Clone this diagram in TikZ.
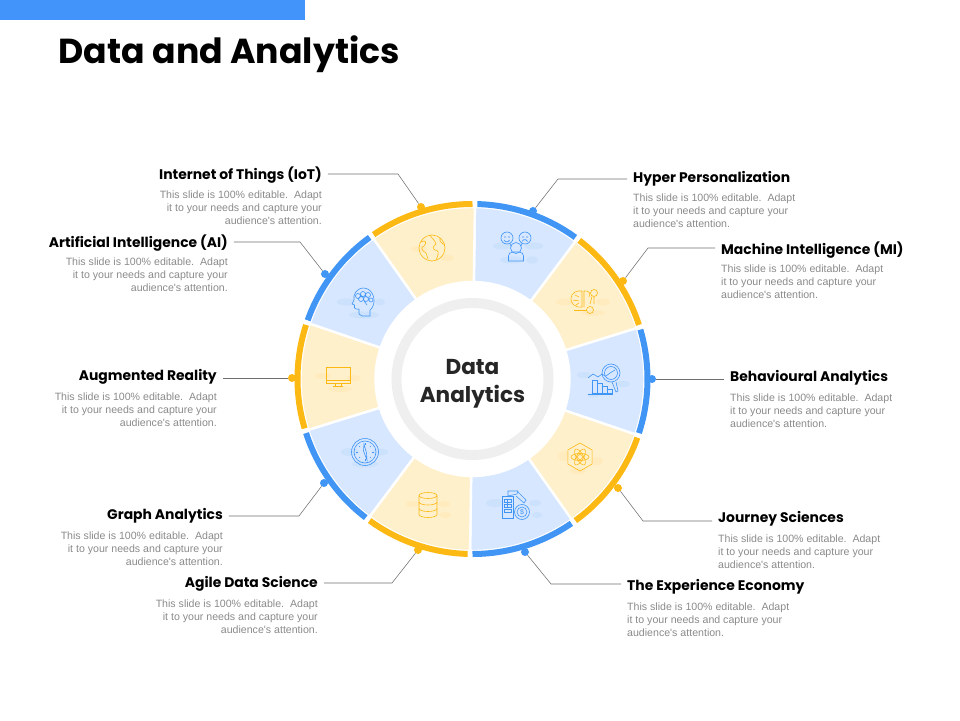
\documentclass[tikz,border=0pt]{standalone}
\usepackage{fontspec}
\setmainfont{Poppins}
\newfontfamily\bodyfont{Liberation Sans}
\definecolor{barblue}{HTML}{4294FA}
\definecolor{rimblue}{HTML}{4095F5}
\definecolor{rimyellow}{HTML}{FDB913}
\definecolor{secblue}{HTML}{D6E7FF}
\definecolor{secyellow}{HTML}{FFF0CC}
\definecolor{blobblue}{HTML}{C6DDFB}
\definecolor{blobyellow}{HTML}{FFE9B5}
\definecolor{ringgray}{HTML}{EFEFEF}
\definecolor{leadgray}{HTML}{6E6E6E}
\definecolor{bodygray}{HTML}{8A8A8A}
\tikzset{
  bluesec/.style={fill=secblue, draw=white, line width=2.4pt},
  yellowsec/.style={fill=secyellow, draw=white, line width=2.4pt},
  bluerim/.style={draw=rimblue, line width=6pt},
  yellowrim/.style={draw=rimyellow, line width=6pt},
  bluedot/.style={circle, fill=rimblue, minimum size=8pt, inner sep=0pt},
  yellowdot/.style={circle, fill=rimyellow, minimum size=8pt, inner sep=0pt},
  leadline/.style={draw=leadgray, line width=0.55pt},
  headr/.style={anchor=east, inner xsep=6pt, inner ysep=0pt, font=\bfseries\fontsize{13.9}{15}\selectfont},
  headl/.style={anchor=west, inner xsep=6pt, inner ysep=0pt, font=\bfseries\fontsize{13.9}{15}\selectfont},
  bodyr/.style={anchor=north east, align=right, inner sep=0pt, text=bodygray, font=\bodyfont\fontsize{10.6}{13}\selectfont},
  bodyl/.style={anchor=north west, align=left, inner sep=0pt, text=bodygray, font=\bodyfont\fontsize{10.6}{13}\selectfont},
  iconb/.style={draw=rimblue, line width=0.6pt},
  icony/.style={draw=rimyellow, line width=0.6pt},
}
\newcommand{\bodytext}{This slide is 100\% editable.\ \ Adapt\\it to your needs and capture your\\audience's attention.}
\begin{document}
\begin{tikzpicture}[x=1pt, y=1pt]
\useasboundingbox (-472.5,-341) rectangle (487.5,379);
% top bar and title
\fill[barblue] (-472.5,379) rectangle (-167.5,359);
\node[anchor=west, inner sep=0pt, font=\bfseries\fontsize{34.7}{38}\selectfont] (title) at (-414,325) {Data and Analytics};
% sectors
\draw[bluesec] (89.2:97) arc(89.2:53.2:97) -- (53.2:172) arc(53.2:89.2:172) -- cycle;
\draw[yellowsec] (53.2:97) arc(53.2:17.2:97) -- (17.2:172) arc(17.2:53.2:172) -- cycle;
\draw[bluesec] (17.2:97) arc(17.2:-18.8:97) -- (-18.8:172) arc(-18.8:17.2:172) -- cycle;
\draw[yellowsec] (-18.8:97) arc(-18.8:-54.8:97) -- (-54.8:172) arc(-54.8:-18.8:172) -- cycle;
\draw[bluesec] (-54.8:97) arc(-54.8:-90.8:97) -- (-90.8:172) arc(-90.8:-54.8:172) -- cycle;
\draw[yellowsec] (-90.8:97) arc(-90.8:-126.8:97) -- (-126.8:172) arc(-126.8:-90.8:172) -- cycle;
\draw[bluesec] (-126.8:97) arc(-126.8:-162.8:97) -- (-162.8:172) arc(-162.8:-126.8:172) -- cycle;
\draw[yellowsec] (-162.8:97) arc(-162.8:-198.8:97) -- (-198.8:172) arc(-198.8:-162.8:172) -- cycle;
\draw[bluesec] (125.2:97) arc(125.2:161.2:97) -- (161.2:172) arc(161.2:125.2:172) -- cycle;
\draw[yellowsec] (89.2:97) arc(89.2:125.2:97) -- (125.2:172) arc(125.2:89.2:172) -- cycle;
% rim
\draw[bluerim] (88.4:175) arc(88.4:54:175);
\draw[yellowrim] (52.4:175) arc(52.4:18:175);
\draw[bluerim] (16.4:175) arc(16.4:-18:175);
\draw[yellowrim] (-19.6:175) arc(-19.6:-54:175);
\draw[bluerim] (-55.6:175) arc(-55.6:-90:175);
\draw[yellowrim] (-91.6:175) arc(-91.6:-126:175);
\draw[bluerim] (-127.6:175) arc(-127.6:-162:175);
\draw[yellowrim] (-163.6:175) arc(-163.6:-198:175);
\draw[bluerim] (160.4:175) arc(160.4:126:175);
\draw[yellowrim] (124.4:175) arc(124.4:90:175);
% middle ring
\draw[ringgray, line width=10pt] (0,0) circle (76);
\node[align=center, font=\bfseries\fontsize{21.6}{28}\selectfont, text=black!85] (hub) at (0,-5) {Data\\Analytics};
% dots
\node[bluedot] (dotHyper) at (60.5,168) {};
\node[yellowdot] (dotMachine) at (150.5,98) {};
\node[bluedot] (dotBehav) at (179.5,0) {};
\node[yellowdot] (dotJourney) at (145.5,-109) {};
\node[bluedot] (dotExp) at (52.5,-173) {};
\node[yellowdot] (dotAgile) at (-54.5,-171) {};
\node[bluedot] (dotGraph) at (-148.5,-104) {};
\node[yellowdot] (dotAR) at (-180.5,1) {};
\node[bluedot] (dotAI) at (-147.5,105) {};
\node[yellowdot] (dotIoT) at (-51.5,172) {};
% headings
\node[headl] (headHyper) at (154.5,200) {Hyper Personalization};
\node[headl] (headMachine) at (242.5,129) {Machine Intelligence (MI)};
\node[headl] (headBehav) at (251.5,1) {Behavioural Analytics};
\node[headl] (headJourney) at (239.5,-140) {Journey Sciences};
\node[headl] (headExp) at (148.5,-208) {The Experience Economy};
\node[headr] (headAgile) at (-148.5,-205) {Agile Data Science};
\node[headr] (headGraph) at (-243.5,-137) {Graph Analytics};
\node[headr] (headAR) at (-249.5,2) {Augmented Reality};
\node[headr] (headAI) at (-238.5,136) {Artificial Intelligence (AI)};
\node[headr] (headIoT) at (-144.5,204) {Internet of Things (IoT)};
% body text
\node[bodyl] (bodyHyper) at (160.5,185) {\bodytext};
\node[bodyl] (bodyMachine) at (248.5,114) {\bodytext};
\node[bodyl] (bodyBehav) at (257.5,-15) {\bodytext};
\node[bodyl] (bodyJourney) at (245.5,-156) {\bodytext};
\node[bodyl] (bodyExp) at (154.5,-224) {\bodytext};
\node[bodyr] (bodyAgile) at (-154.5,-221) {\bodytext};
\node[bodyr] (bodyGraph) at (-249.5,-153) {\bodytext};
\node[bodyr] (bodyAR) at (-255.5,-14) {\bodytext};
\node[bodyr] (bodyAI) at (-244.5,121) {\bodytext};
\node[bodyr] (bodyIoT) at (-150.5,188) {\bodytext};
% leaders
\coordinate (elbHyper) at (85.5,200);
\coordinate (elbMachine) at (175.5,131);
\coordinate (elbJourney) at (170.5,-142);
\coordinate (elbExp) at (78.5,-205);
\coordinate (elbAgile) at (-80.5,-204);
\coordinate (elbGraph) at (-173.5,-137);
\coordinate (elbAI) at (-172.5,137);
\coordinate (elbIoT) at (-74.5,205);
\draw[leadline] (headHyper.west |- elbHyper) -- (elbHyper) -- (dotHyper);
\draw[leadline] (headMachine.west |- elbMachine) -- (elbMachine) -- (dotMachine);
\draw[leadline] (headBehav.west |- dotBehav) -- (dotBehav);
\draw[leadline] (headJourney.west |- elbJourney) -- (elbJourney) -- (dotJourney);
\draw[leadline] (headExp.west |- elbExp) -- (elbExp) -- (dotExp);
\draw[leadline] (headAgile.east |- elbAgile) -- (elbAgile) -- (dotAgile);
\draw[leadline] (headGraph.east |- elbGraph) -- (elbGraph) -- (dotGraph);
\draw[leadline] (headAR.east |- dotAR) -- (dotAR);
\draw[leadline] (headAI.east |- elbAI) -- (elbAI) -- (dotAI);
\draw[leadline] (headIoT.east |- elbIoT) -- (elbIoT) -- (dotIoT);
% people
\begin{scope}[shift={(43.5,134)}]
\fill[blobblue,opacity=.6] (-14,-1) ellipse (9 and 3.5);
\fill[blobblue,opacity=.6] (18,-1) ellipse (9 and 3.5);
\fill[blobblue,opacity=.6] (-4,-15) ellipse (12 and 3.5);
\fill[blobblue,opacity=.6] (16,-15) ellipse (6 and 3.5);
\draw[iconb] (-9,7) circle (6);
\draw[iconb] (9,7) circle (6);
\draw[iconb] (0,-3) circle (5.5);
\draw[iconb] (-12,8) -- (-10,8) (-8,8) -- (-6,8) (-12,5) arc(200:340:3);
\draw[iconb] (6,8) -- (8,8) (10,8) -- (12,8) (6,3.5) arc(160:20:3);
\draw[iconb] (-7.5,-16) -- (-7.5,-11) arc(180:90:4) -- (3.5,-7) arc(90:0:4) -- (7.5,-16) -- cycle;
\draw[iconb] (-6,1.5) -- (-5,-1) (6,1.5) -- (5,-1);
\end{scope}
% brain and bulb
\begin{scope}[shift={(110.5,79)}]
\fill[blobyellow,opacity=.6] (-18,-2) ellipse (9 and 3.5);
\fill[blobyellow,opacity=.6] (20,-2) ellipse (7 and 3.5);
\fill[blobyellow,opacity=.6] (10,-13) ellipse (12 and 3);
\draw[icony] (-1,-7) .. controls (-8,-8) and (-13,-3) .. (-12,2) .. controls (-12,7) and (-6,10) .. (-1,9) -- cycle;
\draw[icony] (-8,5) -- (-4,3) (-10,0) -- (-4,-1) (-7,-5) -- (-4,-3);
\draw[icony] (1,9) .. controls (6,10) and (8,6) .. (6,3) (1,9) -- (1,-7);
\draw[icony] (11,7) circle (3.5);
\draw[icony] (9,3.5) -- (7,-4) (11,3) -- (11,-4);
\draw[icony] (-9,-10) -- (4,-10);
\draw[icony] (7,-10) circle (3.5);
\end{scope}
% brain head
\begin{scope}[shift={(-108.5,77)}]
\fill[blobblue,opacity=.6] (-18,0) ellipse (9 and 3.5);
\fill[blobblue,opacity=.6] (16,0) ellipse (5 and 3.5);
\fill[blobblue,opacity=.6] (0,-13) ellipse (15 and 3.5);
\draw[iconb] (6,-14) -- (6,-8) .. controls (13,-3) and (11,13) .. (0,14) .. controls (-8,14) and (-11,7) .. (-10,2) -- (-12,-2) -- (-9.5,-3) -- (-9.5,-6) .. controls (-8,-8) and (-6,-7) .. (-5,-7) -- (-5,-12) -- (-2,-14) -- cycle;
\draw[iconb] (-6,6) circle (2.5) (-1,8) circle (2.5) (4,7) circle (2.5) (-3,3) circle (2.5) (2,3) circle (2.5) (7,2) circle (2);
\draw[iconb] (0,1) -- (3,-3);
\end{scope}
% globe
\begin{scope}[shift={(-40.5,131)}]
\fill[blobyellow,opacity=.6] (-13,-1) ellipse (8 and 3);
\fill[blobyellow,opacity=.6] (15,-10) ellipse (7 and 3);
\draw[icony] (0,0) circle (13);
\draw[icony] (-11,6) .. controls (-6,9) and (-5,5) .. (-8,2) .. controls (-12,1) and (-10,-3) .. (-6,-5) -- (-4,-11);
\draw[icony] (-2,13) .. controls (0,9) and (3,8) .. (4,4) .. controls (1,2) and (0,-1) .. (3,-2) .. controls (6,-2) and (8,-4) .. (4,-12);
\draw[icony] (8,10) .. controls (7,6) and (10,5) .. (13,3);
\end{scope}
% monitor
\begin{scope}[shift={(-134.5,3)}]
\fill[blobyellow,opacity=.6] (-15,0) ellipse (8 and 3);
\fill[blobyellow,opacity=.6] (16,-2) ellipse (7 and 3);
\fill[blobyellow,opacity=.6] (2,-13) ellipse (12 and 3);
\draw[icony] (-12,9) rectangle (12,-7);
\draw[icony] (-12,-4) -- (12,-4);
\draw[icony] (-3,-7) -- (-3,-10) (3,-7) -- (3,-10) (-5,-10.5) -- (5,-10.5);
\end{scope}
% compass
\begin{scope}[shift={(-107.5,-73)}]
\fill[blobblue,opacity=.6] (-15,0) ellipse (9 and 4);
\fill[blobblue,opacity=.6] (15,0) ellipse (8 and 3.5);
\fill[blobblue,opacity=.6] (0,-12) ellipse (13 and 3.5);
\draw[iconb] (0,0) circle (13.5) (0,0) circle (11);
\draw[iconb] (0,9) -- (0,7) (0,-9) -- (0,-7) (9,0) -- (7,0) (-9,0) -- (-7,0);
\draw[iconb] (-6,6) -- (-5,5) (6,6) -- (5,5) (-6,-6) -- (-5,-5) (6,-6) -- (5,-5);
\draw[iconb] (-1.5,1) -- (-1,8) -- (1.5,-1) -- (2,-8) -- cycle;
\end{scope}
% database
\begin{scope}[shift={(-44.5,-126)}]
\fill[blobyellow,opacity=.6] (-15,1) ellipse (7 and 3);
\fill[blobyellow,opacity=.6] (16,1) ellipse (6 and 3);
\fill[blobyellow,opacity=.6] (17,-10) ellipse (6 and 3);
\draw[icony] (0,9.5) ellipse (9 and 3);
\draw[icony] (-9,9.5) -- (-9,-9.5) arc(180:360:9 and 3) -- (9,9.5);
\draw[icony] (-9,3) arc(180:360:9 and 3) (-9,-3.5) arc(180:360:9 and 3);
\end{scope}
% building and coin
\begin{scope}[shift={(42.5,-127)}]
\fill[blobblue,opacity=.6] (-20,3) ellipse (9 and 4);
\fill[blobblue,opacity=.6] (20,3) ellipse (6 and 3);
\fill[blobblue,opacity=.6] (22,-9) ellipse (5 and 3);
\draw[iconb] (-13,10) rectangle (-2,-12);
\draw[iconb] (-11,7) rectangle (-4,4) (-11,2) rectangle (-4,-1) (-11,-3) rectangle (-4,-6);
\draw[iconb] (-8,-1) -- (-8,7);
\draw[iconb] (-7,10) -- (-7,15) -- (3,15) -- (2,12) -- cycle;
\draw[iconb] (3,14) -- (11,6) -- (9,3) -- (1,10);
\draw[iconb] (7,-6) circle (7.5) (7,-6) circle (5);
\node[text=rimblue, inner sep=0pt, font=\bodyfont\fontsize{7}{7}\selectfont] (coin) at (7,-6) {\$};
\end{scope}
% atom in hexagon
\begin{scope}[shift={(107.5,-78)}]
\fill[blobyellow,opacity=.6] (-16,1) ellipse (6 and 5);
\fill[blobyellow,opacity=.6] (17,-4) ellipse (6 and 4);
\fill[blobyellow,opacity=.6] (-2,-14) ellipse (8 and 3);
\draw[icony] (90:14) -- (30:14) -- (-30:14) -- (-90:14) -- (-150:14) -- (150:14) -- cycle;
\draw[icony] (0,0) circle (2.5);
\draw[icony] (0,0) ellipse (9 and 3.5);
\draw[icony, rotate=60] (0,0) ellipse (9 and 3.5);
\draw[icony, rotate=-60] (0,0) ellipse (9 and 3.5);
\end{scope}
% chart and lens
\begin{scope}[shift={(130.5,-2)}]
\fill[blobblue,opacity=.6] (-19,6) ellipse (7 and 3);
\fill[blobblue,opacity=.6] (20,-3) ellipse (7 and 3);
\fill[blobblue,opacity=.6] (-10,-14) ellipse (6 and 2.5);
\draw[iconb] (-11,-12) rectangle (-6,1) (-6,-12) rectangle (-1,-2) (-1,-12) rectangle (4,-5) (4,-12) rectangle (9,-8);
\draw[iconb] (-15,-13) -- (10,-13);
\draw[iconb] (-15,3) -- (-10,7) -- (-5,4) -- (-1,7) -- (2,5);
\draw[iconb] (8,8) circle (9) (8,8) circle (6.5);
\draw[iconb] (9,-1) -- (13,-11) -- (15,-10) -- (13,-1);
\draw[iconb] (3,5) -- (7,8) -- (12,11);
\end{scope}
\end{tikzpicture}
\end{document}
